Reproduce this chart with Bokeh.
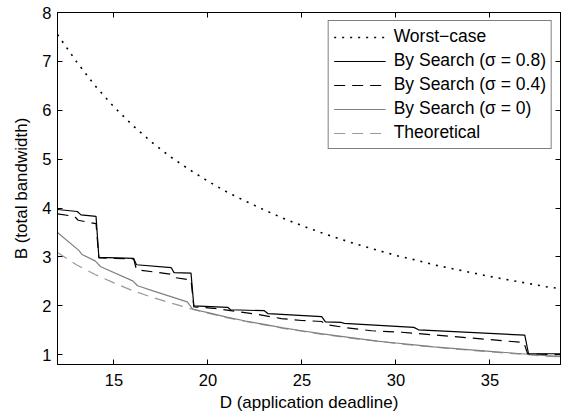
from bokeh.plotting import figure
from bokeh.models import FixedTicker, LinearAxis, Legend, LegendItem, Range1d
from bokeh.embed import file_html
from bokeh.resources import INLINE

# ---- data ----
worst_D = [12, 13, 14, 15, 16, 17, 18, 19, 20, 21, 22, 23, 24, 25, 26, 27, 28,
           29, 30, 31, 32, 33, 34, 35, 36, 37, 38, 38.75]
worst_B = [7.55, 7.0, 6.5, 6.07, 5.69, 5.35, 5.05, 4.79, 4.55, 4.33, 4.14, 3.96,
           3.79, 3.64, 3.5, 3.37, 3.25, 3.14, 3.03, 2.94, 2.84, 2.76, 2.68, 2.6,
           2.53, 2.46, 2.39, 2.35]

s08_D = [12, 13.05, 13.25, 14.05, 14.2, 16.05, 16.2, 18.05, 18.2, 19.1, 19.25,
         21.05, 21.2, 23.0, 23.2, 26.05, 26.25, 27.1, 27.25, 30.95, 31.2, 36.85,
         37.05, 38.75]
s08_B = [3.97, 3.93, 3.86, 3.83, 2.99, 2.97, 2.84, 2.78, 2.68, 2.67, 2.0,
         1.97, 1.92, 1.90, 1.84, 1.78, 1.67, 1.66, 1.64, 1.56, 1.51, 1.40,
         1.02, 1.02]

s04_D = [12, 12.9, 13.1, 14.05, 14.2, 16.05, 16.2, 18.0, 18.2, 19.1, 19.25,
         20.3, 21.4, 22.55, 23.9, 25.0, 26.05, 26.25, 27.4, 28.7, 30.3, 36.8,
         37.0, 38.75]
s04_B = [3.88, 3.83, 3.75, 3.68, 2.98, 2.96, 2.74, 2.65, 2.58, 2.53, 1.98,
         1.95, 1.89, 1.83, 1.74, 1.70, 1.68, 1.62, 1.55, 1.49, 1.46, 1.25,
         1.02, 1.0]

s0_D = [12, 13.15, 13.3, 14.0, 14.3, 16.0, 16.26, 17.2, 18.9, 19.2, 20, 21, 22,
        23, 24, 25, 26, 27, 28, 29, 30, 31, 32, 33, 34, 35, 36, 37, 38, 38.75]
s0_B = [3.50, 3.13, 3.05, 2.92, 2.80, 2.51, 2.41, 2.29, 2.08, 1.93, 1.86, 1.77,
        1.69, 1.62, 1.55, 1.49, 1.43, 1.38, 1.33, 1.28, 1.24, 1.20, 1.16, 1.13,
        1.10, 1.07, 1.04, 1.01, 0.98, 0.96]

theo_D = [12, 13, 14, 15, 16, 17, 18, 19, 20, 21, 22, 23, 24, 25, 26, 27, 28,
          29, 30, 31, 32, 33, 34, 35, 36, 37, 38, 38.75]
theo_B = [3.09, 2.84, 2.64, 2.47, 2.31, 2.18, 2.06, 1.95, 1.85, 1.76, 1.68, 1.61,
          1.54, 1.48, 1.42, 1.37, 1.32, 1.28, 1.23, 1.19, 1.16, 1.12, 1.09, 1.06,
          1.03, 1.0, 0.97, 0.955]

x_ticks = [15, 20, 25, 30, 35]
y_ticks = [1, 2, 3, 4, 5, 6, 7, 8]

labels = ["Worst\u2212case", "By Search (\u03c3 = 0.8)", "By Search (\u03c3 = 0.4)",
          "By Search (\u03c3 = 0)", "Theoretical"]

FONT = "Liberation Sans"

p = figure(width=566, height=415, output_backend="svg", toolbar_location=None,
           x_range=Range1d(12, 38.75), y_range=Range1d(0.8, 8),
           min_border_left=57, min_border_right=6, min_border_top=12,
           min_border_bottom=51)
p.background_fill_color = "white"
p.border_fill_color = "white"
p.outline_line_color = "black"
p.outline_line_width = 1
p.xgrid.visible = False
p.ygrid.visible = False

r_theo = p.line(theo_D, theo_B, line_color="#9a9a9a", line_width=1.2, line_dash="11 7")
r_s0 = p.line(s0_D, s0_B, line_color="#808080", line_width=1.2)
r_s04 = p.line(s04_D, s04_B, line_color="black", line_width=1.2, line_dash="11 7")
r_s08 = p.line(s08_D, s08_B, line_color="black", line_width=1.2)
r_worst = p.line(worst_D, worst_B, line_color="black", line_width=1.6, line_dash="2 6")

for ax in (p.xaxis[0], p.yaxis[0]):
    ax.major_tick_in = 5
    ax.major_tick_out = 0
    ax.minor_tick_line_color = None
    ax.axis_line_color = "black"
    ax.major_tick_line_color = "black"
    ax.major_label_text_font = FONT
    ax.major_label_text_font_size = "16.5px"
    ax.major_label_text_color = "black"
    ax.axis_label_text_font = FONT
    ax.axis_label_text_font_size = "17px"
    ax.axis_label_text_font_style = "normal"
    ax.axis_label_text_color = "black"

p.xaxis.ticker = FixedTicker(ticks=x_ticks)
p.yaxis.ticker = FixedTicker(ticks=y_ticks)
p.xaxis.axis_label = "D (application deadline)"
p.yaxis.axis_label = "B (total bandwidth)"
p.xaxis.major_label_standoff = 9
p.xaxis.axis_label_standoff = 4
p.yaxis.major_label_standoff = 6
p.yaxis.axis_label_standoff = 8

top = LinearAxis(ticker=FixedTicker(ticks=x_ticks), major_tick_in=5, major_tick_out=0,
                 minor_tick_line_color=None, major_label_text_font_size="1px",
                 major_label_text_color=None, major_label_standoff=0,
                 axis_line_color="black")
right = LinearAxis(ticker=FixedTicker(ticks=y_ticks), major_tick_in=5, major_tick_out=0,
                   minor_tick_line_color=None, major_label_text_font_size="1px",
                   major_label_text_color=None, major_label_standoff=0,
                   axis_line_color="black")
p.add_layout(top, "above")
p.add_layout(right, "right")

legend = Legend(items=[
    LegendItem(label=labels[0], renderers=[r_worst]),
    LegendItem(label=labels[1], renderers=[r_s08]),
    LegendItem(label=labels[2], renderers=[r_s04]),
    LegendItem(label=labels[3], renderers=[r_s0]),
    LegendItem(label=labels[4], renderers=[r_theo]),
], location="top_right")
legend.margin = 8
legend.padding = 5
legend.spacing = 3
legend.glyph_width = 52
legend.glyph_height = 20
legend.label_height = 20
legend.label_standoff = 8
legend.label_text_font = FONT
legend.label_text_font_size = "17.5px"
legend.label_text_color = "black"
legend.border_line_color = "black"
legend.border_line_width = 1
legend.background_fill_color = "white"
legend.background_fill_alpha = 1
p.add_layout(legend)

open("out.html", "w").write(file_html(p, INLINE))
